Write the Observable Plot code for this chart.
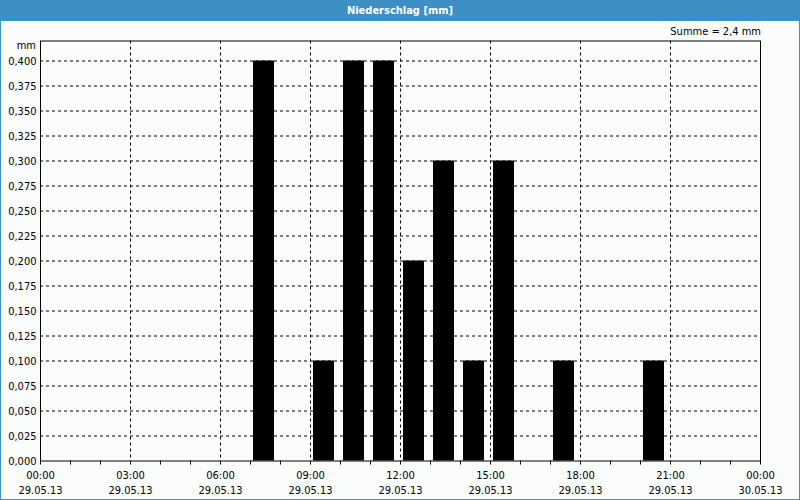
<!DOCTYPE html>
<html>
<head>
<meta charset="utf-8">
<script src="https://cdn.jsdelivr.net/npm/d3@7"></script>
<script src="https://cdn.jsdelivr.net/npm/@observablehq/plot@0.6"></script>
<style>
  html, body { margin: 0; padding: 0; background: #fbfdfd; }
  #wrap { position: relative; width: 800px; height: 500px; overflow: hidden; background: #fbfdfd;
          font-family: "DejaVu Sans Condensed", "DejaVu Sans", sans-serif; font-stretch: condensed; font-size: 11px; color: #000; }
  #titlebar { position: absolute; left: 0; top: 0; width: 800px; height: 21px; background: #3d8fc6;
              color: #fff; font-weight: bold; text-align: center; line-height: 21px; font-size: 11px; }
  #border { position: absolute; left: 0; top: 0; width: 800px; height: 500px; box-sizing: border-box;
            border: 1px solid #3d8fc6; border-top: none; pointer-events: none; }
  #unit { position: absolute; right: 764px; top: 39px; font-size: 11px; }
  #sum { position: absolute; right: 39px; top: 25px; font-size: 11px; }
  #chart { position: absolute; left: 0; top: 0; }
</style>
</head>
<body>
<div id="wrap">
  <div id="chart"></div>
  <div id="titlebar">Niederschlag [mm]</div>
  <div id="unit">mm</div>
  <div id="sum">Summe = 2,4 mm</div>
  <div id="border"></div>
</div>
<script>
// ---- data ----
const hours = [7, 9, 10, 11, 12, 13, 14, 15, 17, 20];          // start hour of each interval on 29.05.13
const values = [0.4, 0.1, 0.4, 0.4, 0.2, 0.3, 0.1, 0.3, 0.1, 0.1]; // mm per hour
const yTicks = [0, 0.025, 0.05, 0.075, 0.1, 0.125, 0.15, 0.175, 0.2, 0.225, 0.25, 0.275, 0.3, 0.325, 0.35, 0.375, 0.4];
const xTickHours = [0, 3, 6, 9, 12, 15, 18, 21, 24];
const xTickLabels = ["00:00\n29.05.13", "03:00\n29.05.13", "06:00\n29.05.13", "09:00\n29.05.13", "12:00\n29.05.13",
                     "15:00\n29.05.13", "18:00\n29.05.13", "21:00\n29.05.13", "00:00\n30.05.13"];

const start = Date.UTC(2013, 4, 29, 0, 0);
const H = 3600e3;
const at = h => new Date(start + h * H);

const data = hours.map((h, i) => ({h, v: values[i]}));
const hourTicks = d3.range(0, 25).map(at);
const labelMap = new Map(xTickHours.map((h, i) => [h, xTickLabels[i]]));

const de = d3.formatLocale({decimal: ",", thousands: ".", grouping: [3], currency: ["", " €"]});
const yFmt = de.format(".3f");

const chart = Plot.plot({
  width: 800,
  height: 500,
  marginLeft: 40,
  marginRight: 40,
  marginTop: 40.5,
  marginBottom: 39.5,
  style: {background: "transparent", fontFamily: "DejaVu Sans Condensed, DejaVu Sans, sans-serif", fontSize: "11px", color: "#000", overflow: "visible"},
  x: {type: "utc", domain: [at(0), at(24)]},
  y: {domain: [0, 0.42]},
  marks: [
    Plot.gridY(yTicks.filter(v => v > 0), {stroke: "#000", strokeOpacity: 1, strokeDasharray: "3,3"}),
    Plot.gridX(xTickHours.filter(h => h > 0 && h < 24).map(at), {stroke: "#000", strokeOpacity: 1, strokeDasharray: "3,3"}),
    Plot.rectY(data, {
      x1: d => at(d.h + 0.1),
      x2: d => at(d.h + 0.8),
      y: "v",
      fill: "#000"
    }),
    Plot.frame({stroke: "#000"}),
    Plot.axisY(yTicks, {tickSize: 0, tickPadding: 4, tickFormat: yFmt, label: null, fontSize: 11}),
    Plot.axisX(hourTicks, {
      tickSize: 4,
      tickPadding: 3,
      label: null,
      fontSize: 11,
      lineHeight: 1.4,
      tickFormat: d => {
        const h = Math.round((d - start) / H);
        return labelMap.has(h) ? labelMap.get(h) : "";
      }
    })
  ]
});
document.getElementById("chart").appendChild(chart);
</script>
</body>
</html>
